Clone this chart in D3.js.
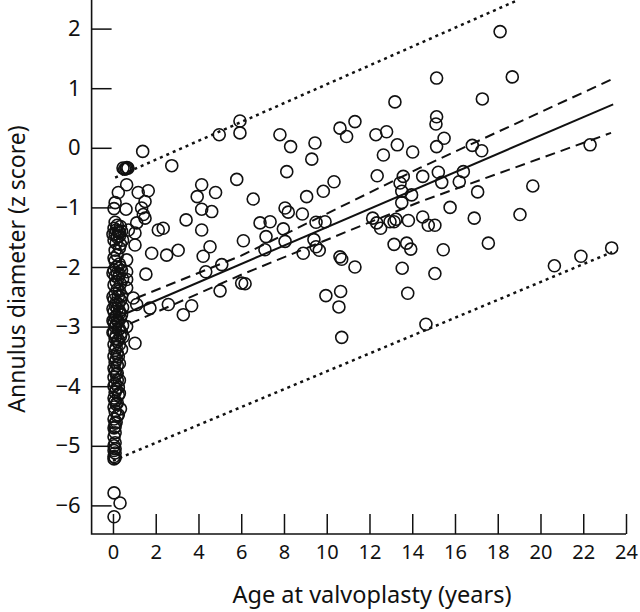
<!DOCTYPE html>
<html>
<head>
<meta charset="utf-8">
<script src="https://cdn.jsdelivr.net/npm/d3@7/dist/d3.min.js"></script>
<style>
html,body{margin:0;padding:0;background:#fff;}
svg{display:block;}
text{font-family:"Noto Sans","DejaVu Sans",sans-serif;fill:#111;}
</style>
</head>
<body>
<svg id="chart" width="640" height="612"></svg>
<script>
// ---- data ----
const xTicks = [0,2,4,6,8,10,12,14,16,18,20,22,24];
const yTicks = [-6,-5,-4,-3,-2,-1,0,1,2];
const xTitle = "Age at valvoplasty (years)";
const yTitle = "Annulus diameter (z score)";

// patients aged > ~0.5 years
const ageOlder = [1.39,0.47,0.61,0.70,0.55,0.65,2.75,4.97,5.94,5.94,0.64,1.18,1.65,4.15,3.94,4.80,5.79,6.56,1.50,0.61,1.34,1.42,1.50,1.11,4.15,4.62,3.42,4.15,2.12,2.35,0.72,1.03,1.03,1.81,2.51,3.05,4.54,4.22,6.10,0.64,1.54,0.64,0.64,5.09,4.34,6.02,6.18,5.01,0.64,0.95,1.11,1.73,2.59,3.68,3.29,0.64,1.03,0.48,
 7.81,8.31,9.45,9.30,8.13,10.62,10.93,11.32,13.19,15.14,15.14,15.11,12.30,12.80,13.30,12.65,14.02,15.14,9.06,9.84,10.34,12.36,13.58,13.43,13.51,14.49,15.22,15.38,8.05,8.20,8.86,6.88,7.35,7.97,7.16,7.11,8.05,8.90,9.50,9.92,9.40,9.50,9.65,10.62,10.70,11.32,9.96,10.65,10.57,10.70,12.15,12.34,12.52,12.96,13.15,13.24,13.82,13.51,13.97,14.49,14.75,15.06,13.15,13.74,13.93,13.53,13.79,15.06,14.64,18.11,18.68,17.28,15.49,16.81,17.25,22.32,16.39,16.20,17.06,19.64,15.77,16.90,19.04,15.45,17.56,20.65,21.89,23.33];
const zOlder = [-0.06,-0.34,-0.35,-0.34,-0.36,-0.33,-0.30,0.22,0.45,0.25,-0.62,-0.75,-0.72,-0.62,-0.82,-0.75,-0.53,-0.86,-0.90,-1.03,-1.01,-1.12,-1.18,-1.26,-1.03,-1.07,-1.21,-1.38,-1.38,-1.35,-1.38,-1.43,-1.63,-1.77,-1.80,-1.72,-1.66,-1.82,-1.56,-1.88,-2.12,-2.08,-2.21,-1.96,-2.08,-2.27,-2.28,-2.40,-2.35,-2.52,-2.63,-2.69,-2.63,-2.65,-2.80,-3.00,-3.28,-3.17,
 0.22,0.02,0.08,-0.19,-0.40,0.33,0.19,0.44,0.77,1.17,0.52,0.40,0.22,0.27,0.05,-0.12,-0.07,0.02,-0.82,-0.73,-0.57,-0.47,-0.48,-0.59,-0.73,-0.48,-0.41,-0.58,-1.01,-1.08,-1.11,-1.26,-1.24,-1.36,-1.49,-1.71,-1.57,-1.77,-1.25,-1.24,-1.54,-1.66,-1.72,-1.83,-1.87,-2.00,-2.48,-2.41,-2.67,-3.18,-1.18,-1.26,-1.35,-1.24,-1.24,-1.20,-1.22,-0.92,-0.79,-1.16,-1.30,-1.30,-1.62,-1.60,-1.70,-2.02,-2.44,-2.11,-2.96,1.95,1.19,0.82,0.16,0.04,-0.05,0.05,-0.40,-0.57,-0.74,-0.64,-1.00,-1.18,-1.12,-1.71,-1.60,-1.98,-1.82,-1.68];

// neonates / infants (age ~ 0)
const ageInfant = [0.25,0.10,0.05,0.10,0.20,0.05,0.15,0.30,0.10,0.20,0.05,0.15,0.10,0.20,0.05,0.10,0.30,0.15,0.05,0.20,0.10,0.15,0.05,0.20,0.10,0.25,0.05,0.15,0.10,0.20,0.05,0.30,0.15,0.10,0.20,0.05,0.15,0.10,0.25,0.05,0.15,0.10,0.20,0.05,0.15,0.10,0.20,0.05,0.15,0.10,0.20,0.05,0.10,0.15,0.05,0.20,0.10,0.05,0.15,0.10,0.25,0.05,0.10,0.15,0.05,0.10,0.20,0.05,0.10,0.05,0.10,0.05,0.10,0.05,0.05,0.10,0.05,0.05,0.05,0.33,0.05,
 0.35,0.40,0.30,0.45,0.35,0.25,0.30,0.35,0.40,0.30,0.45,0.35,0.25,0.30,0.40,0.35,0.25,0.45,0.30,0.40,0.35,0.25,0.45,0.30,0.40,0.35,0.25,0.30,0.40,0.25,0.30,0.20,0.30,0.25,0.30,0.20,0.35,0.25,0.15,0.10,0.10,0.10,0.00,0.00,0.00,0.00,0.00,0.00];
const zInfant = [-0.75,-0.92,-1.02,-1.25,-1.30,-1.35,-1.38,-1.42,-1.45,-1.50,-1.55,-1.60,-1.72,-1.80,-1.85,-1.90,-1.95,-2.00,-2.05,-2.10,-2.15,-2.25,-2.30,-2.38,-2.45,-2.50,-2.55,-2.60,-2.65,-2.70,-2.75,-2.78,-2.82,-2.85,-2.90,-2.93,-2.97,-3.00,-3.05,-3.10,-3.15,-3.20,-3.25,-3.30,-3.35,-3.40,-3.45,-3.50,-3.55,-3.60,-3.65,-3.70,-3.75,-3.80,-3.85,-3.90,-3.95,-4.00,-4.05,-4.10,-4.15,-4.20,-4.25,-4.30,-4.35,-4.42,-4.50,-4.55,-4.62,-4.70,-4.78,-4.85,-4.95,-5.00,-5.08,-5.12,-5.18,-5.22,-5.79,-5.96,-6.19,
 -1.32,-1.40,-1.48,-1.55,-1.62,-1.40,-1.68,-2.00,-2.06,-2.12,-2.20,-2.28,-2.18,-2.40,-2.48,-2.56,-2.62,-2.68,-2.74,-2.80,-2.86,-2.92,-2.98,-3.04,-3.10,-3.16,-3.22,-3.30,-3.38,-3.50,-3.62,-3.78,-3.90,-4.02,-4.12,-4.28,-4.38,-4.48,-4.60,-4.68,-5.05,-5.20,-1.45,-2.10,-2.50,-2.70,-2.90,-3.10];

// fitted regression line, 95% confidence band, 95% prediction band (read points)
const fitAge = [0.6, 23.4];
const fitZ = [-2.78, 0.73];
const ciAgeUpper = [1.1, 6.0, 14.4, 23.4];
const ciZUpper = [-2.52, -1.81, -0.33, 1.16];
const ciAgeLower = [0.8, 6.0, 14.4, 23.3];
const ciZLower = [-2.95, -2.13, -0.90, 0.25];
const piAgeUpper = [0.1, 18.95];
const piZUpper = [-0.50, 2.48];
const piAgeLower = [0.0, 23.35];
const piZLower = [-5.25, -1.75];

// ---- drawing ----
const svg = d3.select("#chart");
const x = d3.scaleLinear().domain([-1, 24]).range([91.6, 626]);
const y = d3.scaleLinear().domain([-6.48, 2.48]).range([534, 0]);

const zip = (a, b) => a.map((v, i) => [v, b[i]]);
const line = d3.line().x(d => x(d[0])).y(d => y(d[1]));
const FONT = '"Noto Sans","DejaVu Sans",sans-serif';

// axes
const yAxis = d3.axisLeft(y).tickValues(yTicks).tickSizeInner(-20).tickSizeOuter(0).tickPadding(11)
  .tickFormat(d => d < 0 ? "\u2212" + Math.abs(d) : d);
const gy = svg.append("g").attr("transform", `translate(${x(-1)},0)`).call(yAxis);
gy.select(".domain").remove();
gy.selectAll("line").attr("stroke", "#111").attr("stroke-width", 1.5);
gy.selectAll("text").attr("font-size", 22).style("font-family", FONT).attr("fill", "#111");

const xAxis = d3.axisBottom(x).tickValues(xTicks).tickSizeInner(-20).tickSizeOuter(0).tickPadding(11);
const gx = svg.append("g").attr("transform", `translate(0,${y(-6.48)})`).call(xAxis);
gx.select(".domain").remove();
gx.selectAll("line").attr("stroke", "#111").attr("stroke-width", 1.5);
gx.selectAll("text").attr("font-size", 20).style("font-family", FONT).attr("fill", "#111");

// axis lines
svg.append("path").attr("d", line([[-1, 2.48], [-1, -6.48], [24, -6.48]]))
  .attr("fill", "none").attr("stroke", "#111").attr("stroke-width", 1.6);

// points
const pts = zip(ageInfant, zInfant).concat(zip(ageOlder, zOlder));
svg.append("g").selectAll("circle").data(pts).join("circle")
  .attr("cx", d => x(d[0])).attr("cy", d => y(d[1])).attr("r", 6)
  .attr("fill", "none").attr("stroke", "#111").attr("stroke-width", 1.6);

// lines
svg.append("path").attr("d", line(zip(fitAge, fitZ)))
  .attr("fill", "none").attr("stroke", "#111").attr("stroke-width", 2);
[[ciAgeUpper, ciZUpper], [ciAgeLower, ciZLower]].forEach(([a, b]) => {
  svg.append("path").attr("d", line(zip(a, b)))
    .attr("fill", "none").attr("stroke", "#111").attr("stroke-width", 2)
    .attr("stroke-dasharray", "10,6");
});
[[piAgeUpper, piZUpper], [piAgeLower, piZLower]].forEach(([a, b]) => {
  svg.append("path").attr("d", line(zip(a, b)))
    .attr("fill", "none").attr("stroke", "#111").attr("stroke-width", 2.5)
    .attr("stroke-dasharray", "3,4");
});

// titles
svg.append("text").attr("x", 372).attr("y", 603).attr("text-anchor", "middle")
  .attr("font-size", 23.5).text(xTitle);
svg.append("text").attr("transform", "translate(25,269) rotate(-90)").attr("text-anchor", "middle")
  .attr("font-size", 23).text(yTitle);
</script>
</body>
</html>
